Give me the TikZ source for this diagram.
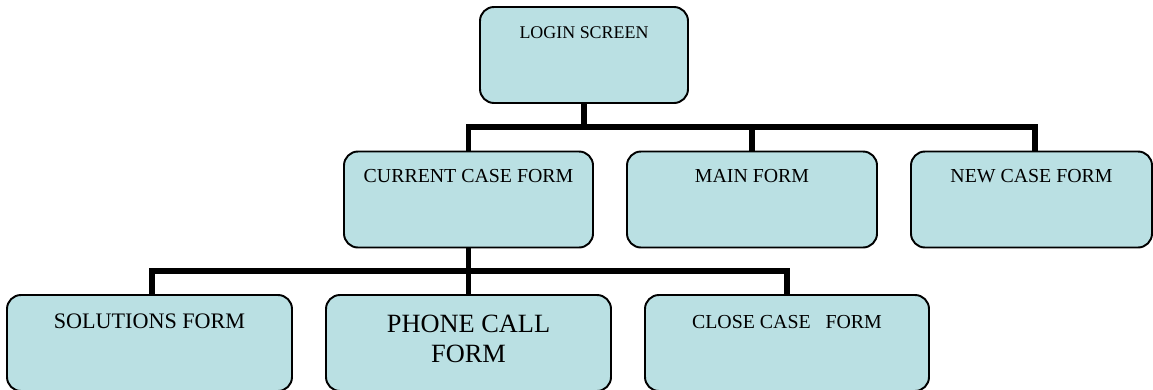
\documentclass[tikz,border=0pt]{standalone}
\usepackage{fontspec}
\setmainfont{Liberation Serif}
\usepackage{tikz}
\usepackage{xcolor}
\definecolor{formblue}{RGB}{186,224,227}

\tikzset{
    form/.style={draw=black, line width=1.1pt, fill=formblue, rounded corners=0.28cm,
        inner xsep=0pt, inner ysep=0pt, text height=0.62cm, text depth=1.3cm,
        font=\fontsize{11.3}{13}\selectfont},
    lowform/.style={form, minimum width=5.7cm, text height=0.66cm, text depth=1.26cm},
    link/.style={line width=3.4pt}
}

\begin{document}
\begin{tikzpicture}
        \useasboundingbox (0,0) rectangle (23.06,7.78);
        % top
        \node[form, minimum width=4.16cm, font=\fontsize{10.2}{12}\selectfont] (login) at (11.68,6.68) {LOGIN SCREEN};
        % second row
        \node[form, minimum width=4.98cm] (current) at (9.37,3.79) {CURRENT CASE FORM};
        \node[form, minimum width=5.0cm] (main) at (15.04,3.79) {MAIN FORM};
        \node[form, minimum width=4.82cm] (newcase) at (20.63,3.79) {NEW CASE FORM};
        % third row
        \node[lowform, font=\fontsize{12.6}{14}\selectfont] (solutions) at (2.99,0.92) {SOLUTIONS FORM};
        \node[lowform, align=center, text height=1.34cm, text depth=0.58cm,
            font=\fontsize{15}{17}\selectfont] (phone) at (9.37,0.92) {PHONE CALL\\FORM};
        \node[lowform, minimum width=5.68cm] (closecase) at (15.74,0.92) {CLOSE CASE\ \ \ FORM};
        % links
        \coordinate (bus1) at (11.68,5.24);
        \draw[link] (login.south) -- (bus1);
        \draw[link] (current.north) |- (bus1) -| ([xshift=0.07cm]newcase.north);
        \draw[link] (main.north) -- (main.north |- bus1);
        \coordinate (bus2) at (9.37,2.36);
        \draw[link] (current.south) -- (bus2);
        \draw[link] ([xshift=0.05cm]solutions.north) |- (bus2) -| (closecase.north);
        \draw[link] (phone.north) -- (phone.north |- bus2);
\end{tikzpicture}
\end{document}
